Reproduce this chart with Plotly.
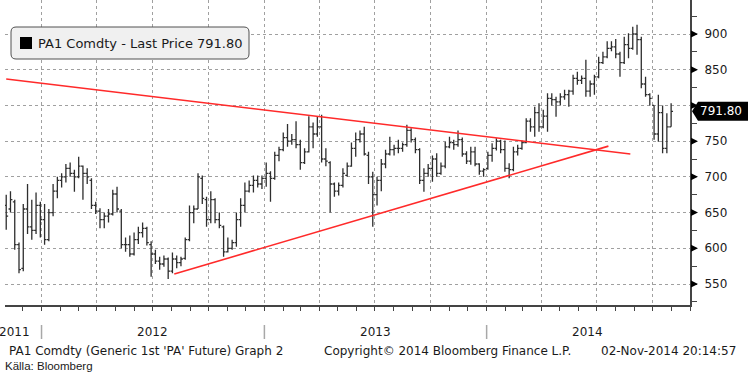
import pandas as pd
import plotly.graph_objects as go

# ---------------- data (weekly OHLC, PA1 Comdty) ----------------
first_week = "2011-11-04"
open_ = [660,655,665,605,572,655,630,625,660,640,612,650,680,695,700,712,705,700,715,705,
         695,660,652,640,645,648,676,652,605,605,592,612,622,628,605,592,582,578,585,568,
         585,580,586,612,650,655,698,668,640,668,640,630,595,600,608,640,660,680,688,695,
         690,698,705,698,730,738,755,750,752,745,720,735,770,760,770,725,720,690,680,688,
         702,715,740,752,760,730,700,675,695,718,732,738,740,740,745,765,752,738,695,705,
         712,725,705,715,742,748,745,752,732,722,735,718,708,712,730,740,750,738,712,710,
         735,740,748,778,770,790,770,785,810,808,805,812,815,820,838,835,838,820,830,840,
         860,868,880,882,872,860,885,880,900,892,830,815,800,760,790,740,770]
high = [675,680,668,608,662,690,668,678,665,662,655,690,700,705,718,720,710,728,716,712,
        698,665,656,650,655,682,686,655,615,618,622,630,636,630,610,598,588,590,587,594,
        590,588,615,660,660,705,702,672,680,670,650,632,615,612,650,670,692,695,702,702,
        702,720,708,735,742,762,774,760,778,752,740,785,776,785,787,740,722,692,692,712,
        720,748,762,765,770,735,707,700,725,738,756,745,752,748,773,768,755,740,712,718,
        730,733,720,749,756,752,765,755,736,742,742,719,712,735,747,754,752,751,719,742,
        745,751,782,782,798,803,794,817,817,812,817,822,822,843,847,842,864,835,843,868,
        875,890,890,893,875,896,901,910,913,896,840,817,800,815,800,789,803]
low = [626,650,598,565,568,620,612,620,615,605,610,645,670,685,692,700,679,698,668,690,
       655,648,628,628,636,646,650,600,595,588,590,606,615,604,560,578,570,574,557,565,
       572,575,584,610,635,655,662,630,635,635,628,588,594,598,602,630,650,678,678,685,
       683,686,665,696,722,736,742,745,740,710,718,734,740,756,720,715,650,672,674,685,
       700,714,728,748,730,690,630,660,680,712,730,730,733,735,742,748,733,690,679,700,
       693,700,703,712,740,738,742,728,718,717,715,703,700,710,721,737,733,707,698,708,
       730,738,747,763,756,763,768,763,800,784,800,808,798,815,829,830,812,812,815,838,
       858,866,876,866,840,858,866,878,871,824,812,800,752,749,733,733,770]
close = [645,668,605,570,655,630,625,660,640,612,650,680,695,700,712,705,700,715,705,700,
         660,652,640,645,648,676,655,605,605,592,612,622,628,608,592,582,578,585,568,585,
         580,585,612,650,655,700,670,640,668,640,632,595,600,608,640,660,680,688,695,690,
         698,705,698,730,738,755,750,752,745,720,735,770,760,770,725,722,690,680,688,705,
         715,740,752,760,732,700,675,695,718,732,738,740,740,745,765,752,738,695,705,712,
         725,705,715,742,748,745,752,732,722,735,718,708,710,730,740,750,738,712,710,735,
         740,748,778,770,790,770,785,810,808,805,812,815,820,838,835,838,820,830,840,860,
         868,880,882,872,860,885,880,900,892,830,815,810,760,790,740,770,791.8]

dates = pd.date_range(first_week, periods=len(close), freq="7D")

# trend lines
upper_dates = ["2011-11-04", "2014-08-25"]
upper_vals = [837, 732]
lower_dates = ["2012-08-06", "2014-07-20"]
lower_vals = [564, 743]

y_ticks = [550, 600, 650, 700, 750, 800, 850, 900]
# the 800 label sits under the last-price tag in the reference
y_tick_text = ["550", "600", "650", "700", "750", "", "850", "900"]
year_labels = ["2011", "2012", "2013", "2014"]
year_label_dates = ["2011-12-01", "2012-07-01", "2013-07-02", "2014-06-16"]
year_breaks = ["2012-01-01", "2013-01-01", "2014-01-01"]

legend_text = "PA1 Comdty - Last Price 791.80"
last_price_text = "791.80"
footer_left = "PA1 Comdty (Generic 1st 'PA' Future) Graph 2"
footer_mid = "Copyright\u00a9 2014 Bloomberg Finance L.P."
footer_right = "02-Nov-2014 20:14:57"
source_text = "K\u00e4lla: Bloomberg"

# ---------------- layout geometry ----------------
W, H = 748, 375
PL, PR, PT, PB = 5, 690, 0, 305
YMIN, YMAX = 520.6, 947.6
X_RANGE = ["2011-11-02", "2014-12-01"]
FONT = "DejaVu Sans, Verdana, sans-serif"
TXT = "#1a1a1a"


def px(x):
    return (x - PL) / (PR - PL)


def py(y):
    return (PB - y) / (PB - PT)


def vy(v):
    return (v - YMIN) / (YMAX - YMIN)


fig = go.Figure()

fig.add_trace(go.Ohlc(
    x=dates, open=open_, high=high, low=low, close=close,
    increasing=dict(line=dict(color="#2e2e2e", width=1.3)),
    decreasing=dict(line=dict(color="#2e2e2e", width=1.3)),
    tickwidth=0.45, showlegend=False, hoverinfo="skip",
))
fig.add_trace(go.Scatter(x=upper_dates, y=upper_vals, mode="lines",
                         line=dict(color="#ff2a2a", width=1.6), showlegend=False, hoverinfo="skip"))
fig.add_trace(go.Scatter(x=lower_dates, y=lower_vals, mode="lines",
                         line=dict(color="#ff2a2a", width=1.6), showlegend=False, hoverinfo="skip"))

shapes = []
annotations = []

# legend box (rounded)
xa, xb, ya, yb = px(11), px(249), py(27), py(59)
rx, ry = 5 / (PR - PL), 5 / (PB - PT)
path = (f"M {xa+rx},{ya} L {xb-rx},{ya} Q {xb},{ya} {xb},{ya-ry} L {xb},{yb+ry} "
        f"Q {xb},{yb} {xb-rx},{yb} L {xa+rx},{yb} Q {xa},{yb} {xa},{yb+ry} "
        f"L {xa},{ya-ry} Q {xa},{ya} {xa+rx},{ya} Z")
shapes.append(dict(type="path", xref="paper", yref="paper", path=path,
                   fillcolor="#f0f0f0", line=dict(color="#505050", width=1), layer="above"))
shapes.append(dict(type="rect", xref="paper", yref="paper", x0=px(20), x1=px(32), y0=py(37), y1=py(49),
                   fillcolor="#000000", line=dict(width=0), layer="above"))
annotations.append(dict(xref="paper", yref="paper", x=px(36), y=py(43), xanchor="left", yanchor="middle",
                        text=legend_text, showarrow=False, font=dict(family=FONT, size=13, color=TXT)))

# y tick triangles
for v in y_ticks:
    yc = vy(v)
    d = 3.5 / (PB - PT)
    x0 = 1 + 1 / (PR - PL)
    x1 = 1 + 8 / (PR - PL)
    shapes.append(dict(type="path", xref="paper", yref="paper",
                       path=f"M {x0},{yc+d} L {x1},{yc} L {x0},{yc-d} Z",
                       fillcolor="#000000", line=dict(width=0), layer="above"))

# last price tag
yc = vy(close[-1])
hh = 9.5 / (PB - PT)
xt = 1 + 2 / (PR - PL)
xs = 1 + 8 / (PR - PL)
xe = 1 + 58 / (PR - PL)
shapes.append(dict(type="path", xref="paper", yref="paper",
                   path=f"M {xt},{yc} L {xs},{yc+hh} L {xe},{yc+hh} L {xe},{yc-hh} L {xs},{yc-hh} Z",
                   fillcolor="#000000", line=dict(width=0), layer="above"))
annotations.append(dict(xref="paper", yref="paper", x=1 + 31 / (PR - PL), y=yc, xanchor="center",
                        yanchor="middle", text=last_price_text, showarrow=False,
                        font=dict(family=FONT, size=12, color="#ffffff")))

# year separators and labels
for d in year_breaks:
    shapes.append(dict(type="line", xref="x", yref="paper", x0=d, x1=d, y0=py(325), y1=py(339),
                       line=dict(color="#a8a8a8", width=1.5)))
for lab, d in zip(year_labels, year_label_dates):
    if lab == "2011":
        annotations.append(dict(xref="paper", yref="paper", x=px(32), y=py(332), xanchor="right",
                                yanchor="middle", text=lab, showarrow=False,
                                font=dict(family=FONT, size=12, color=TXT)))
    else:
        annotations.append(dict(xref="x", yref="paper", x=d, y=py(332), xanchor="center",
                                yanchor="middle", text=lab, showarrow=False,
                                font=dict(family=FONT, size=12, color=TXT)))

# footer
annotations.append(dict(xref="paper", yref="paper", x=px(7), y=py(351), xanchor="left", yanchor="middle",
                        text=footer_left, showarrow=False, font=dict(family=FONT, size=12, color=TXT)))
annotations.append(dict(xref="paper", yref="paper", x=px(322), y=py(351), xanchor="left", yanchor="middle",
                        text=footer_mid, showarrow=False, font=dict(family=FONT, size=12, color=TXT)))
annotations.append(dict(xref="paper", yref="paper", x=px(599), y=py(351), xanchor="left", yanchor="middle",
                        text=footer_right, showarrow=False, font=dict(family=FONT, size=12, color=TXT)))
annotations.append(dict(xref="paper", yref="paper", x=px(3), y=py(366), xanchor="left", yanchor="middle",
                        text=source_text, showarrow=False,
                        font=dict(family="Liberation Sans Narrow, Liberation Sans, Arial", size=11.5, color=TXT)))

fig.update_layout(
    width=W, height=H,
    margin=dict(l=PL, r=W - PR, t=PT, b=H - PB, pad=0),
    paper_bgcolor="#ffffff", plot_bgcolor="#ffffff",
    showlegend=False,
    shapes=shapes, annotations=annotations,
    xaxis=dict(
        type="date", range=X_RANGE, rangeslider=dict(visible=False),
        showgrid=True, gridcolor="#a0a0a0", griddash="dot", gridwidth=1,
        dtick="M3", tick0="2012-01-01", ticks="outside", ticklen=4, tickcolor="#444444",
        showticklabels=False, showline=True, linecolor="#444444", linewidth=1.5,
        minor=dict(dtick="M1", tick0="2012-01-01", ticks="outside", ticklen=4,
                   tickcolor="#444444", showgrid=False),
        zeroline=False, fixedrange=True,
    ),
    yaxis=dict(
        side="right", range=[YMIN, YMAX], tickvals=y_ticks, ticktext=y_tick_text,
        showgrid=True, gridcolor="#a0a0a0", griddash="dot", gridwidth=1,
        ticks="outside", ticklen=10, tickcolor="rgba(0,0,0,0)",
        tickfont=dict(family=FONT, size=12, color=TXT),
        showline=True, linecolor="#444444", linewidth=2,
        minor=dict(dtick=25, tick0=0, ticks="outside", ticklen=5, tickcolor="#444444", showgrid=False),
        zeroline=False, fixedrange=True,
    ),
)

fig.write_html(
    "out.html",
    config=dict(displayModeBar=False),
    post_script="document.body.style.margin='0';document.body.style.padding='0';",
)
